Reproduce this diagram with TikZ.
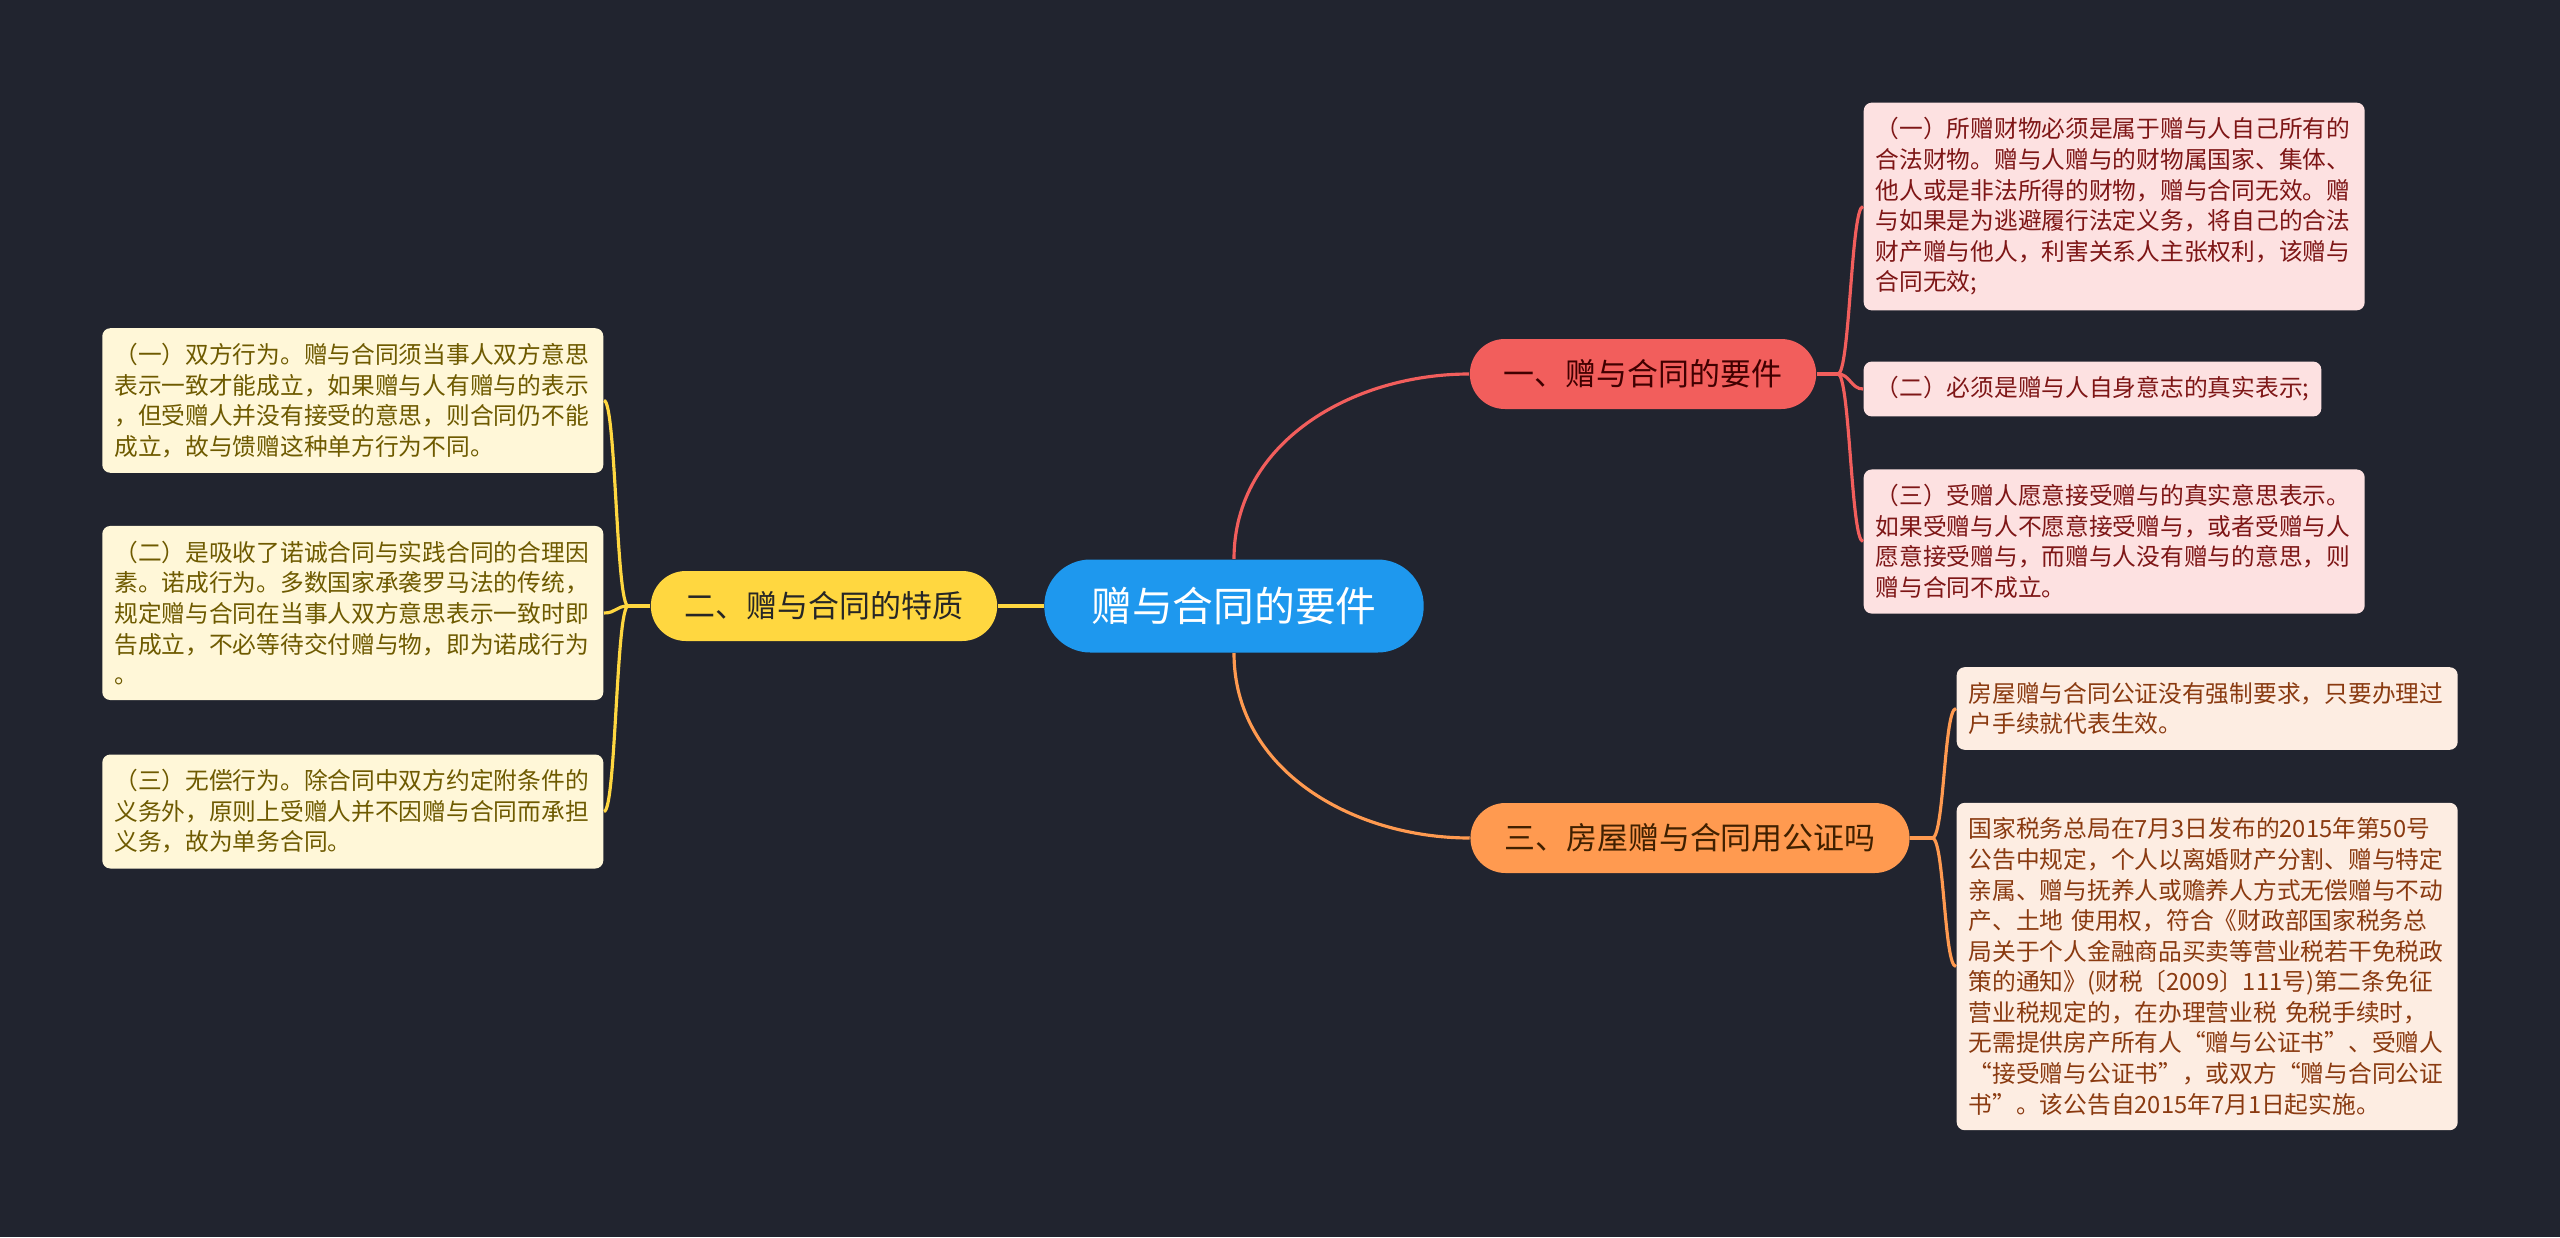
\documentclass[tikz,border=0pt]{standalone}
\usepackage{fontspec}
\setmainfont{Noto Sans CJK SC}
\usepackage{tikz}
\usetikzlibrary{positioning}
\definecolor{bgdark}{HTML}{21242F}
\definecolor{rootblue}{HTML}{1E98EE}
\definecolor{redmain}{HTML}{F25E5C}
\definecolor{orangemain}{HTML}{FF9A50}
\definecolor{yellowmain}{HTML}{FFD740}
\definecolor{redleaf}{HTML}{FDE1E1}
\definecolor{orangeleaf}{HTML}{FDEDE2}
\definecolor{yellowleaf}{HTML}{FFF7D8}
\definecolor{redtext}{HTML}{7E1616}
\definecolor{orangetext}{HTML}{8A3A10}
\definecolor{yellowtext}{HTML}{6E5A00}

\begin{document}
\begin{tikzpicture}[x=1cm, y=1cm,
    root/.style={fill=rootblue, text=white, rounded corners=0.46cm, minimum height=0.93cm, inner xsep=0.47cm, font=\fontsize{11.6}{14}\selectfont},
    branch/.style={rounded corners=0.35cm, minimum height=0.70cm, inner xsep=0.34cm, font=\fontsize{8.8}{10}\selectfont},
    leaf/.style={rounded corners=0.08cm, inner xsep=0.12cm, inner ysep=0.15cm, align=left, font=\fontsize{6.75}{8.7}\selectfont},
    leafw/.style={leaf, text width=4.77cm},
    link/.style={line width=0.9pt}]
  \fill[bgdark] (0,0) rectangle (25.6,12.37); % Hintergrund
  \useasboundingbox (0,0) rectangle (25.6,12.37);

  \node[root] (root) at (12.34,6.31) {赠与合同的要件};

  % Hauptzweige
  \node[branch, fill=redmain, text=black!75!red] (b1) at (16.43,8.63) {一、赠与合同的要件};
  \node[branch, fill=yellowmain, text=black!85] (b2) at (8.24,6.31) {二、赠与合同的特质};
  \node[branch, fill=orangemain, text=black!75!orange] (b3) at (16.90,3.99) {三、房屋赠与合同用公证吗};

  % Blaetter rechts oben
  \node[leafw, fill=redleaf, text=redtext, anchor=west] (r1) at (18.63,10.305) {（一）所赠财物必须是属于赠与人自己所有的\\合法财物。赠与人赠与的财物属国家、集体、\\他人或是非法所得的财物，赠与合同无效。赠\\与如果是为逃避履行法定义务，将自己的合法\\财产赠与他人，利害关系人主张权利，该赠与\\合同无效;};
  \node[leaf, fill=redleaf, text=redtext, anchor=west] (r2) at (18.63,8.48) {（二）必须是赠与人自身意志的真实表示;};
  \node[leafw, fill=redleaf, text=redtext, anchor=west] (r3) at (18.63,6.955) {（三）受赠人愿意接受赠与的真实意思表示。\\如果受赠与人不愿意接受赠与，或者受赠与人\\愿意接受赠与，而赠与人没有赠与的意思，则\\赠与合同不成立。};

  % Blaetter rechts unten
  \node[leafw, fill=orangeleaf, text=orangetext, anchor=west] (h1) at (19.56,5.285) {房屋赠与合同公证没有强制要求，只要办理过\\户手续就代表生效。};
  \node[leafw, fill=orangeleaf, text=orangetext, anchor=west] (h2) at (19.56,2.705) {国家税务总局在7月3日发布的2015年第50号\\公告中规定，个人以离婚财产分割、赠与特定\\亲属、赠与抚养人或赡养人方式无偿赠与不动\\产、土地 使用权，符合《财政部国家税务总\\局关于个人金融商品买卖等营业税若干免税政\\策的通知》(财税〔2009〕111号)第二条免征\\营业税规定的，在办理营业税 免税手续时，\\无需提供房产所有人“赠与公证书”、受赠人\\“接受赠与公证书”，或双方“赠与合同公证\\书”。该公告自2015年7月1日起实施。};

  % Blaetter links
  \node[leafw, fill=yellowleaf, text=yellowtext, anchor=east] (l1) at (6.04,8.365) {（一）双方行为。赠与合同须当事人双方意思\\表示一致才能成立，如果赠与人有赠与的表示\\，但受赠人并没有接受的意思，则合同仍不能\\成立，故与馈赠这种单方行为不同。};
  \node[leafw, fill=yellowleaf, text=yellowtext, anchor=east] (l2) at (6.04,6.24) {（二）是吸收了诺诚合同与实践合同的合理因\\素。诺成行为。多数国家承袭罗马法的传统，\\规定赠与合同在当事人双方意思表示一致时即\\告成立，不必等待交付赠与物，即为诺成行为\\。};
  \node[leafw, fill=yellowleaf, text=yellowtext, anchor=east] (l3) at (6.04,4.255) {（三）无偿行为。除合同中双方约定附条件的\\义务外，原则上受赠人并不因赠与合同而承担\\义务，故为单务合同。};

  % Verbindungen
  \draw[link, redmain] (root.north) to[out=90, in=180] (b1.west);
  \draw[link, orangemain] (root.south) to[out=-90, in=180] (b3.west);
  \draw[link, yellowmain] (root.west) -- (b2.east);

  \coordinate (s1) at ([xshift=0.21cm]b1.east);
  \coordinate (s3) at ([xshift=0.22cm]b3.east);
  \coordinate (s2) at ([xshift=-0.22cm]b2.west);
  \draw[link, redmain] (b1.east) -- (s1);
  \draw[link, orangemain] (b3.east) -- (s3);
  \draw[link, yellowmain] (b2.west) -- (s2);
  \foreach \leafnode in {r1,r2,r3}
    \draw[link, redmain] (s1) .. controls +(0.12,0) and +(-0.12,0) .. (\leafnode.west);
  \foreach \leafnode in {h1,h2}
    \draw[link, orangemain] (s3) .. controls +(0.12,0) and +(-0.12,0) .. (\leafnode.west);
  \foreach \leafnode in {l1,l2,l3}
    \draw[link, yellowmain] (s2) .. controls +(-0.12,0) and +(0.12,0) .. (\leafnode.east);
\end{tikzpicture}
\end{document}
